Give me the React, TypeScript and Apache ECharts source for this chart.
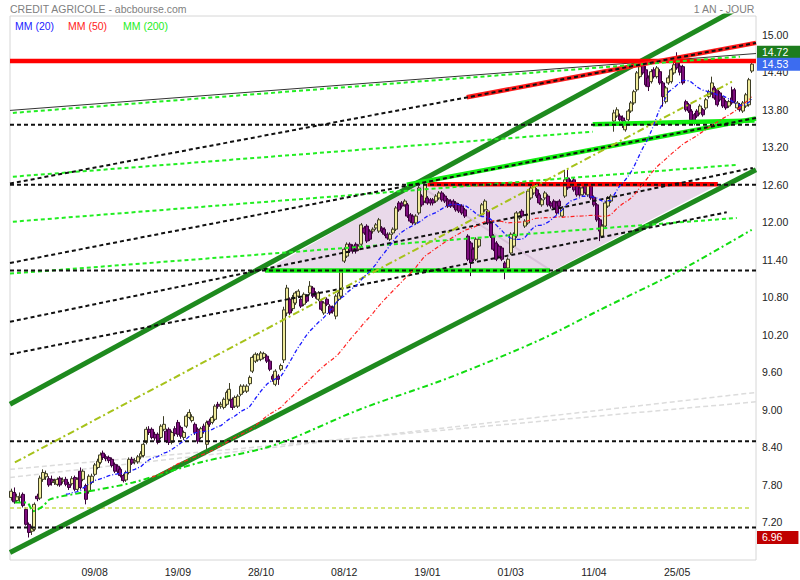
import React, { useEffect, useRef } from 'react';
import * as echarts from 'echarts';

const FONT = 'Liberation Sans, Arial, sans-serif';

// Daily candles [open, close, low, high], one small array per month
const jun2016 = [
  [7.60, 7.70, 7.55, 7.74], [7.68, 7.53, 7.50, 7.76],
];
const jul2016 = [
  [7.55, 7.61, 7.52, 7.66], [7.60, 7.62, 7.52, 7.68], [7.65, 7.47, 7.44, 7.68], [7.41, 7.17, 7.15, 7.44],
  [7.17, 7.04, 6.96, 7.20], [7.06, 7.11, 7.00, 7.15], [7.09, 7.49, 7.06, 7.52], [7.62, 7.58, 7.54, 7.66],
  [7.59, 7.91, 7.56, 7.95], [7.89, 8.00, 7.85, 8.05], [7.93, 7.98, 7.88, 8.03], [7.90, 7.80, 7.77, 7.94],
  [7.89, 7.84, 7.79, 7.95], [7.84, 7.86, 7.80, 7.90], [7.81, 7.89, 7.78, 7.92], [7.91, 7.80, 7.77, 7.94],
  [7.86, 7.88, 7.82, 7.92], [7.89, 7.81, 7.78, 7.93], [7.81, 7.76, 7.72, 7.85], [7.82, 7.90, 7.79, 7.94],
  [7.92, 7.73, 7.70, 7.95],
];
const aug2016 = [
  [7.73, 7.89, 7.70, 7.92], [8.02, 7.76, 7.73, 8.08], [7.89, 8.02, 7.86, 8.05], [7.79, 7.57, 7.49, 7.82],
  [7.70, 7.94, 7.66, 7.97], [7.84, 7.94, 7.81, 7.98], [7.97, 8.12, 7.94, 8.15], [8.08, 8.18, 8.05, 8.22],
  [8.16, 8.28, 8.13, 8.32], [8.31, 8.24, 8.20, 8.35], [8.25, 8.22, 8.18, 8.29], [8.24, 8.19, 8.15, 8.27],
  [8.21, 8.11, 8.08, 8.24], [8.13, 8.02, 7.99, 8.16], [8.10, 8.02, 7.98, 8.13], [8.05, 7.95, 7.92, 8.08],
  [7.95, 7.87, 7.84, 7.98], [7.88, 8.00, 7.85, 8.03], [8.00, 8.21, 7.97, 8.24], [8.21, 8.15, 8.12, 8.25],
  [8.17, 8.19, 8.13, 8.23], [8.17, 8.25, 8.14, 8.28], [8.25, 8.30, 8.21, 8.34],
];
const sep2016 = [
  [8.27, 8.45, 8.24, 8.48], [8.48, 8.69, 8.45, 8.73], [8.69, 8.64, 8.60, 8.74], [8.69, 8.56, 8.53, 8.72],
  [8.61, 8.55, 8.51, 8.65], [8.61, 8.48, 8.45, 8.64], [8.56, 8.74, 8.53, 8.77], [8.69, 8.77, 8.66, 8.90],
  [8.66, 8.50, 8.47, 8.70], [8.69, 8.48, 8.44, 8.72], [8.48, 8.64, 8.45, 8.67], [8.70, 8.62, 8.58, 8.74],
  [8.80, 8.61, 8.57, 8.84], [8.72, 8.58, 8.54, 8.75], [8.56, 8.64, 8.52, 8.67], [8.74, 8.90, 8.71, 8.93],
  [8.88, 8.96, 8.85, 9.01], [8.83, 8.89, 8.80, 8.93], [8.77, 8.64, 8.60, 8.80], [8.69, 8.50, 8.46, 8.72],
  [8.56, 8.70, 8.53, 8.73], [8.74, 8.66, 8.62, 8.78],
];
const oct2016 = [
  [8.45, 8.80, 8.37, 8.83], [8.82, 8.77, 8.73, 8.86], [8.80, 8.88, 8.77, 8.91], [8.85, 9.06, 8.82, 9.09],
  [9.09, 9.06, 9.02, 9.13], [9.06, 9.09, 9.02, 9.13], [9.04, 9.17, 9.01, 9.20], [9.09, 9.28, 9.06, 9.31],
  [9.17, 9.33, 9.14, 9.43], [9.17, 9.04, 9.00, 9.20], [9.06, 9.20, 9.03, 9.23], [9.06, 9.22, 9.03, 9.25],
  [9.25, 9.38, 9.22, 9.41], [9.30, 9.38, 9.27, 9.41], [9.30, 9.38, 9.27, 9.41], [9.42, 9.52, 9.39, 9.55],
  [9.62, 9.84, 9.59, 9.87], [9.78, 9.89, 9.75, 9.92], [9.80, 9.88, 9.77, 9.91], [9.81, 9.91, 9.78, 9.94],
  [9.84, 9.90, 9.81, 9.93],
];
const nov2016 = [
  [9.86, 9.78, 9.75, 9.89], [9.78, 9.65, 9.62, 9.81], [9.54, 9.49, 9.45, 9.57], [9.41, 9.62, 9.38, 9.65],
  [9.54, 9.49, 9.40, 9.57], [9.65, 9.71, 9.62, 9.74], [9.80, 10.60, 9.75, 10.65], [10.55, 10.95, 10.50, 11.00],
  [10.77, 10.55, 10.52, 10.80], [10.62, 10.80, 10.58, 10.84], [10.71, 10.87, 10.68, 10.90], [10.82, 10.90, 10.79, 10.93],
  [10.77, 10.66, 10.63, 10.80], [10.69, 10.85, 10.66, 10.88], [10.82, 10.74, 10.71, 10.85], [10.87, 10.98, 10.84, 11.06],
  [10.95, 10.82, 10.79, 10.98], [10.87, 10.82, 10.78, 10.90], [10.77, 10.87, 10.74, 10.90], [10.74, 10.61, 10.58, 10.77],
  [10.55, 10.71, 10.52, 10.74], [10.77, 10.69, 10.66, 10.80],
];
const dec2016 = [
  [10.66, 10.55, 10.52, 10.69], [10.64, 10.58, 10.54, 10.67], [10.50, 10.82, 10.45, 10.85], [10.77, 10.87, 10.74, 10.90],
  [10.82, 11.22, 10.79, 11.25], [11.38, 11.57, 11.35, 11.60], [11.46, 11.65, 11.43, 11.68], [11.65, 11.54, 11.51, 11.68],
  [11.62, 11.54, 11.50, 11.65], [11.65, 11.54, 11.50, 11.68], [11.57, 11.62, 11.54, 11.65], [11.65, 11.96, 11.62, 11.99],
  [11.91, 11.83, 11.80, 11.94], [11.94, 11.70, 11.67, 11.97], [11.86, 11.73, 11.70, 11.89], [11.86, 11.89, 11.82, 11.92],
  [11.91, 11.96, 11.88, 11.99], [11.86, 12.04, 11.83, 12.07], [11.91, 11.86, 11.83, 11.94], [11.89, 11.81, 11.78, 11.92],
  [11.81, 11.75, 11.72, 11.84],
];
const jan2017 = [
  [11.73, 11.81, 11.70, 11.84], [11.83, 11.89, 11.80, 11.92], [11.89, 12.23, 11.86, 12.26], [12.31, 12.20, 12.17, 12.34],
  [12.31, 12.26, 12.22, 12.34], [12.28, 12.34, 12.25, 12.37], [12.28, 12.10, 12.07, 12.31], [12.12, 12.02, 11.99, 12.15],
  [12.10, 11.99, 11.96, 12.13], [11.99, 12.10, 11.96, 12.13], [12.15, 12.55, 12.12, 12.58], [12.42, 12.28, 12.25, 12.45],
  [12.34, 12.60, 12.31, 12.64], [12.39, 12.31, 12.28, 12.42], [12.36, 12.31, 12.27, 12.39], [12.36, 12.31, 12.27, 12.39],
  [12.34, 12.42, 12.31, 12.45], [12.39, 12.47, 12.36, 12.50], [12.47, 12.36, 12.33, 12.50], [12.42, 12.34, 12.31, 12.45],
  [12.36, 12.26, 12.23, 12.39], [12.34, 12.26, 12.23, 12.37],
];
const feb2017 = [
  [12.34, 12.26, 12.23, 12.37], [12.31, 12.20, 12.17, 12.34], [12.28, 12.18, 12.15, 12.31], [12.26, 12.15, 12.12, 12.29],
  [12.20, 12.10, 12.07, 12.23], [11.78, 11.41, 11.38, 11.81], [11.67, 11.35, 11.14, 11.70], [11.57, 11.41, 11.38, 11.60],
  [11.41, 11.73, 11.38, 11.76], [11.62, 11.73, 11.59, 11.76], [12.12, 12.28, 12.09, 12.31], [12.20, 12.34, 12.17, 12.37],
  [12.18, 11.99, 11.96, 12.21], [11.99, 11.78, 11.75, 12.02], [11.78, 11.57, 11.54, 11.81], [11.67, 11.41, 11.38, 11.70],
  [11.62, 11.46, 11.43, 11.65], [11.59, 11.41, 11.38, 11.62], [11.35, 11.27, 11.09, 11.38], [11.27, 11.41, 11.24, 11.44],
];
const mar2017 = [
  [11.51, 11.81, 11.48, 11.84], [11.62, 11.81, 11.59, 11.84], [11.78, 12.15, 11.75, 12.18], [12.07, 12.15, 12.04, 12.18],
  [12.18, 12.10, 12.07, 12.21], [11.94, 12.02, 11.91, 12.05], [11.99, 12.50, 11.96, 12.53], [12.39, 12.55, 12.36, 12.58],
  [12.47, 12.60, 12.44, 12.63], [12.52, 12.42, 12.39, 12.55], [12.44, 12.31, 12.28, 12.47], [12.28, 12.36, 12.25, 12.39],
  [12.39, 12.47, 12.36, 12.50], [12.42, 12.28, 12.25, 12.45], [12.31, 12.26, 12.22, 12.34], [12.34, 12.23, 12.20, 12.37],
  [12.31, 12.15, 12.12, 12.34], [12.34, 12.26, 12.22, 12.37], [12.10, 12.23, 12.07, 12.26], [12.42, 12.68, 12.39, 12.84],
  [12.71, 12.55, 12.52, 12.84], [12.66, 12.58, 12.55, 12.69], [12.68, 12.52, 12.49, 12.71],
];
const apr2017 = [
  [12.58, 12.44, 12.41, 12.61], [12.55, 12.44, 12.41, 12.58], [12.44, 12.55, 12.41, 12.58], [12.58, 12.47, 12.44, 12.61],
  [12.44, 12.60, 12.41, 12.63], [12.58, 12.39, 12.36, 12.61], [12.40, 12.28, 12.25, 12.43], [12.28, 12.04, 12.01, 12.31],
  [12.04, 11.86, 11.70, 12.07], [11.78, 11.94, 11.75, 11.97], [11.94, 12.31, 11.91, 12.34], [12.26, 12.39, 12.23, 12.42],
  [12.34, 12.42, 12.31, 12.45], [13.62, 13.75, 13.45, 13.80], [13.70, 13.80, 13.67, 13.84], [13.70, 13.64, 13.61, 13.74],
  [13.67, 13.62, 13.51, 13.71], [13.48, 13.59, 13.45, 13.63],
];
const may2017 = [
  [13.64, 13.78, 13.61, 13.81], [13.78, 13.91, 13.75, 13.94], [13.91, 14.09, 13.88, 14.12], [14.12, 14.39, 14.09, 14.42],
  [14.33, 14.49, 14.30, 14.55], [14.52, 14.39, 14.36, 14.60], [14.44, 14.20, 14.17, 14.50], [14.31, 14.17, 14.10, 14.35],
  [14.25, 14.41, 14.22, 14.45], [14.44, 14.33, 14.30, 14.48], [14.33, 14.47, 14.30, 14.50], [14.41, 14.23, 14.20, 14.45],
  [14.23, 14.01, 13.85, 14.26], [13.93, 14.15, 13.90, 14.18], [14.23, 14.31, 14.20, 14.35], [14.25, 14.44, 14.22, 14.47],
  [14.39, 14.52, 14.36, 14.60], [14.60, 14.47, 14.44, 14.72], [14.50, 14.40, 14.35, 14.62], [14.49, 14.23, 14.20, 14.52],
  [13.93, 13.80, 13.77, 13.96], [13.88, 13.78, 13.75, 13.91],
];
const jun2017 = [
  [13.78, 13.64, 13.61, 13.81], [13.72, 13.62, 13.55, 13.75], [13.78, 13.70, 13.67, 13.81], [13.75, 13.86, 13.72, 13.89],
  [13.80, 13.72, 13.69, 13.83], [13.83, 13.96, 13.80, 13.99], [14.01, 14.09, 13.98, 14.12], [14.07, 14.23, 14.04, 14.33],
  [14.15, 13.99, 13.96, 14.18], [14.12, 13.88, 13.85, 14.15], [14.07, 13.96, 13.93, 14.10], [13.99, 13.86, 13.83, 14.02],
  [13.93, 13.83, 13.80, 13.96], [13.86, 13.93, 13.83, 13.96], [13.99, 13.91, 13.88, 14.17], [14.12, 13.93, 13.90, 14.15],
  [13.83, 13.91, 13.80, 13.94], [13.88, 13.80, 13.77, 13.91], [13.78, 13.91, 13.75, 13.94], [13.86, 14.04, 13.83, 14.07],
  [13.88, 14.28, 13.85, 14.31], [14.42, 14.53, 14.39, 14.56],
];

const tickLabels = ['09/08', '19/09', '28/10', '08/12', '19/01', '01/03', '11/04', '25/05'];
const holidays = ['2016-12-26', '2017-04-14', '2017-04-17', '2017-05-01'];
const categoryCount = 260;

// Drawn studies, as [bar index, price] pairs
const channelUpper = [[-0.5, 9.09], [259.5, 15.58]];
const channelLower = [[-0.5, 6.72], [259.5, 12.84]];
const thinResistance = [[-0.5, 13.79], [259.5, 14.7]];
const redTop = [[-0.5, 14.58], [259.5, 14.58]];
const redRising = [[158.7, 14.0], [259.5, 14.87]];
const redShelf = [[145, 12.61], [246.2, 12.61]];
const greenBase = [[88.4, 11.23], [187.7, 11.23]];
const greenShelf = [[202.6, 13.57], [259, 13.63]];
const greenRising = [[137.8, 12.6], [259.5, 13.66]];
const blackRays = [
  [[-0.5, 12.62], [259.5, 14.87]],
  [[-0.5, 11.35], [259.5, 13.67]],
  [[-0.5, 10.41], [258.4, 12.87]],
  [[-0.5, 9.89], [249.3, 12.16]],
];
const blackLevels = [13.56, 12.6, 11.23, 8.5, 7.12];
const greenRays = [
  [[0.5, 13.75], [253.9, 14.65]],
  [[0.5, 12.73], [202.6, 13.45]],
  [[0.5, 12.01], [252.8, 12.92]],
  [[-0.5, 11.18], [252.8, 12.07]],
];
const oliveRay = [[1.2, 8.16], [251.1, 14.25]];
const yellowLevel = [[-0.5, 7.43], [258, 7.43]];
const grayRays = [
  [[-0.5, 7.92], [259.5, 9.28]],
  [[-0.5, 8.05], [259.5, 9.13]],
];
const triangleZone = [[88.4, 11.23], [142, 12.62], [246.2, 12.6], [188.7, 11.23]];
const triangleDiagonal = [[142.4, 12.58], [187.7, 11.24]];
const mm200Points = [
  [1.2, 7.52], [5.4, 7.52], [7.5, 7.38], [11, 7.46], [13.4, 7.57], [24.9, 7.68], [42.4, 7.84],
  [65.7, 8.16], [86.6, 8.37], [97.1, 8.53], [121.5, 9.01], [152.8, 9.52], [184.2, 10.12],
  [205.1, 10.6], [233, 11.23], [258, 11.88],
];

const pad = (n: number) => (n < 10 ? '0' + n : '' + n);

function buildDates(): string[] {
  const out: string[] = [];
  const d = new Date(Date.UTC(2016, 5, 29));
  while (out.length < categoryCount) {
    const wd = d.getUTCDay();
    const iso = d.toISOString().slice(0, 10);
    if (wd !== 0 && wd !== 6 && !holidays.includes(iso)) {
      out.push(pad(d.getUTCDate()) + '/' + pad(d.getUTCMonth() + 1));
    }
    d.setUTCDate(d.getUTCDate() + 1);
  }
  return out;
}

export default function App() {
  const ref = useRef<HTMLDivElement>(null);

  useEffect(() => {
    document.body.style.margin = '0';
    if (!ref.current) return;
    const chart = echarts.init(ref.current, undefined, { renderer: 'svg' });

    const bars = [
      ...jun2016, ...jul2016, ...aug2016, ...sep2016, ...oct2016, ...nov2016,
      ...dec2016, ...jan2017, ...feb2017, ...mar2017, ...apr2017, ...may2017, ...jun2017,
    ];
    const dates = buildDates();
    const closes = bars.map((b) => b[1]);
    const maxHigh = Math.max(...bars.map((b) => b[3]));
    const minLow = Math.min(...bars.map((b) => b[2]));
    const lastClose = closes[closes.length - 1];

    const movingAverage = (n: number) => {
      const res: number[][] = [];
      for (let i = n - 1; i < closes.length; i++) {
        let s = 0;
        for (let k = i - n + 1; k <= i; k++) s += closes[k];
        res.push([i, s / n]);
      }
      return res;
    };

    const seg = (data: any, color: string, width: number, type: any, z: number, extra: any = {}) => ({
      type: 'line',
      xAxisIndex: 1,
      yAxisIndex: 0,
      data,
      symbol: 'none',
      silent: true,
      z,
      animation: false,
      lineStyle: { color, width, type, cap: 'butt' },
      ...extra,
    });

    const boxLabel = (bg: string) => ({
      show: true,
      position: 'end',
      distance: 1,
      formatter: (p: any) => Number(p.value).toFixed(2),
      color: '#ffffff',
      opacity: 1,
      backgroundColor: bg,
      padding: [1, 16, 1, 5],
      fontSize: 10.5,
      lineHeight: 11,
      fontFamily: FONT,
    });

    const series: any[] = [
      {
        type: 'custom',
        xAxisIndex: 1,
        yAxisIndex: 0,
        z: 1,
        silent: true,
        data: [triangleZone[0]],
        renderItem: (_p: any, api: any) => ({
          type: 'polygon',
          shape: { points: triangleZone.map((pt) => api.coord(pt)) },
          style: { fill: '#e9d9ea' },
        }),
      },
      seg(triangleDiagonal, '#d9c2da', 2, 'solid', 2),
      ...grayRays.map((r) => seg(r, '#dcdcdc', 1.5, [5, 3], 2)),
      {
        type: 'candlestick',
        xAxisIndex: 0,
        yAxisIndex: 0,
        data: bars,
        barWidth: 3.5,
        z: 3,
        silent: true,
        itemStyle: {
          color: '#f0eb9c',
          color0: '#7d0c7d',
          borderColor: '#3d3d25',
          borderColor0: '#3a003a',
          borderWidth: 1,
        },
      },
      {
        type: 'line',
        xAxisIndex: 1,
        yAxisIndex: 0,
        data: [],
        symbol: 'none',
        silent: true,
        z: 9,
        markLine: {
          symbol: 'none',
          silent: true,
          animation: false,
          lineStyle: { color: 'rgba(0,0,0,0)', width: 0, type: 'solid' },
          data: [
            { yAxis: maxHigh, label: boxLabel('#1d7d1d') },
            { yAxis: lastClose, label: boxLabel('#3c6cf0') },
            { yAxis: minLow, label: boxLabel('#c00000') },
          ],
        },
      },
      seg(yellowLevel, '#c8de50', 1.5, [4, 3], 4),
      seg(thinResistance, '#333333', 1, 'solid', 4),
      seg(channelUpper, '#1e8a1e', 5, 'solid', 5),
      seg(channelLower, '#1e8a1e', 5, 'solid', 5),
      seg(redTop, '#ff0000', 4.5, 'solid', 5),
      seg(redRising, '#ff1a1a', 4.5, 'solid', 5),
      seg(redShelf, '#ff0000', 4.5, 'solid', 5),
      seg(greenBase, '#11ee11', 4.5, 'solid', 5),
      seg(greenShelf, '#11ee11', 4.5, 'solid', 5),
      seg(greenRising, '#11ee11', 4.5, 'solid', 5),
      ...greenRays.map((r) => seg(r, '#22ee22', 2, [4, 3], 6)),
      ...blackRays.map((r) => seg(r, '#111111', 2, [4, 3], 6)),
      ...blackLevels.map((v) => seg([[-0.5, v], [259.5, v]], '#111111', 2, [4, 3], 6)),
      seg(oliveRay, '#a6c21a', 2, [7, 3, 2, 3], 6),
      seg(mm200Points, '#11dd11', 2, [6, 3, 2, 3], 7, { smooth: 0.3 }),
      seg(movingAverage(50), '#ff2020', 1.2, [4, 2, 1, 2], 7),
      seg(movingAverage(20), '#1a1aff', 1.3, [4, 2, 1, 2], 7),
    ];

    chart.setOption({
      animation: false,
      grid: {
        left: 10,
        right: 44,
        top: 16,
        bottom: 20,
        show: true,
        borderColor: '#d6d6d6',
        borderWidth: 1,
        backgroundColor: 'transparent',
      },
      xAxis: [
        {
          type: 'category',
          data: dates,
          boundaryGap: true,
          axisLine: { show: false },
          axisTick: { show: false },
          splitLine: { show: false },
          axisLabel: {
            interval: (_i: number, v: string) => tickLabels.includes(v),
            fontSize: 10.5,
            color: '#222',
            margin: 6,
            fontFamily: FONT,
          },
        },
        { type: 'value', min: -0.5, max: 259.5, show: false },
      ],
      yAxis: {
        type: 'value',
        position: 'right',
        min: 6.6,
        max: 15.3,
        interval: 0.6,
        axisLine: { show: false },
        axisTick: { show: false },
        splitLine: { show: false },
        axisLabel: {
          formatter: (v: number) => v.toFixed(2),
          showMinLabel: false,
          showMaxLabel: false,
          margin: 6,
          fontSize: 10.5,
          color: '#222',
          fontFamily: FONT,
        },
      },
      graphic: [
        { type: 'text', left: 10, top: 3, style: { text: 'CREDIT AGRICOLE - abcbourse.com', fill: '#808080', font: `10.5px ${FONT}` } },
        { type: 'text', right: 45, top: 3, style: { text: '1 AN - JOUR', fill: '#808080', font: `10.5px ${FONT}` } },
        { type: 'text', left: 15, top: 20, style: { text: 'MM (20)', fill: '#2222ff', font: `10.5px ${FONT}` } },
        { type: 'text', left: 68, top: 20, style: { text: 'MM (50)', fill: '#ff2222', font: `10.5px ${FONT}` } },
        { type: 'text', left: 123, top: 20, style: { text: 'MM (200)', fill: '#22ee22', font: `10.5px ${FONT}` } },
      ],
      series,
    });

    return () => chart.dispose();
  }, []);

  return <div ref={ref} style={{ width: 800, height: 580 }} />;
}
